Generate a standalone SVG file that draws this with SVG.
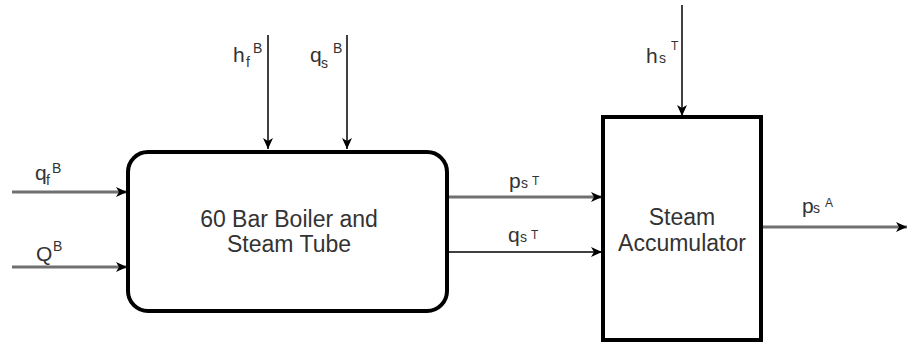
<svg xmlns="http://www.w3.org/2000/svg" width="907" height="344" viewBox="0 0 907 344">
<style>
  text { font-family: "Liberation Sans", Arial, sans-serif; fill: #333; }
  .node { fill: #fff; stroke: #000; stroke-width: 4; }
  .ntext { font-size: 23px; text-anchor: middle; }
  .lbl { font-size: 21px; }
  .sm { font-size: 14px; }
  .xs { font-size: 12px; }
  .gray { stroke: #707070; stroke-width: 3; fill: none; }
  .blk { stroke: #000; stroke-width: 1.5; fill: none; }
</style>
<defs>
  <marker id="arr" markerUnits="userSpaceOnUse" markerWidth="12" markerHeight="10" refX="11" refY="5" orient="auto">
    <path d="M0,0 L11,5 L0,10 L3,5 Z" fill="#000"/>
  </marker>
</defs>
<rect width="907" height="344" fill="#fff"/>
<g id="connectors">
  <g id="e-qfB"><path class="gray" d="M12,192 H127" marker-end="url(#arr)"/>
    <text class="lbl" x="35" y="180">q</text><text class="sm" x="46" y="185">f</text><text class="sm" x="52" y="173">B</text></g>
  <g id="e-QB"><path class="gray" d="M12,267 H127" marker-end="url(#arr)"/>
    <text class="lbl" x="36" y="261">Q</text><text class="sm" x="53" y="251">B</text></g>
  <g id="e-hfB"><path class="blk" d="M268,35 V149" marker-end="url(#arr)"/>
    <text class="lbl" x="233" y="62">h</text><text class="sm" x="246" y="67">f</text><text class="sm" x="253" y="53">B</text></g>
  <g id="e-qsB"><path class="blk" d="M347,35 V149" marker-end="url(#arr)"/>
    <text class="lbl" x="310" y="62">q</text><text class="sm" x="321" y="68">s</text><text class="sm" x="333" y="53">B</text></g>
  <g id="e-psT"><path class="gray" d="M449,197 H602" marker-end="url(#arr)"/>
    <text class="lbl" x="509" y="188">p</text><text class="sm" x="521" y="188">s</text><text class="xs" x="532" y="185">T</text></g>
  <g id="e-qsT"><path class="blk" d="M449,252 H602" marker-end="url(#arr)" style="stroke-width:1.3"/>
    <text class="lbl" x="508" y="242">q</text><text class="sm" x="520" y="242">s</text><text class="xs" x="531" y="239">T</text></g>
  <g id="e-hsT"><path class="blk" d="M682,5 V116" marker-end="url(#arr)"/>
    <text class="lbl" x="646" y="63">h</text><text class="sm" x="659" y="63">s</text><text class="xs" x="671" y="50">T</text></g>
  <g id="e-psA"><path class="gray" d="M763,227 H907" marker-end="url(#arr)"/>
    <text class="lbl" x="802" y="213">p</text><text class="sm" x="813" y="213">s</text><text class="xs" x="825" y="207">A</text></g>
</g>
<g id="boiler">
  <rect class="node" x="128" y="152" width="319" height="159" rx="20" ry="20"/>
  <text class="ntext" x="289" y="227">60 Bar Boiler and</text>
  <text class="ntext" x="289" y="252">Steam Tube</text>
</g>
<g id="accumulator">
  <rect class="node" x="603" y="117" width="158" height="223"/>
  <text class="ntext" x="682" y="225">Steam</text>
  <text class="ntext" x="682" y="251">Accumulator</text>
</g>
</svg>
